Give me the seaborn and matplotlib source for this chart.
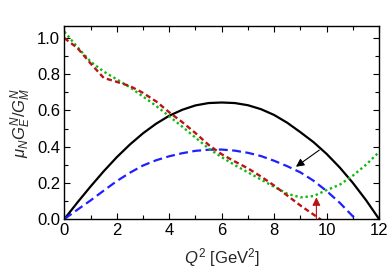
import matplotlib
matplotlib.use("Agg")
import matplotlib.pyplot as plt
import numpy as np
import pandas as pd
import seaborn as sns

# ---------------------------------------------------------------------
# Data (Q^2 in GeV^2)
# ---------------------------------------------------------------------
q2 = [0, 0.5, 1, 1.5, 2, 2.5, 3, 3.5, 4, 4.5, 5, 5.5, 6,
      6.5, 7, 7.5, 8, 8.5, 9, 9.5, 10, 10.5, 11, 11.5, 12]

black_solid = [0, 0.092, 0.18, 0.264, 0.342, 0.412, 0.474, 0.527, 0.571,
               0.604, 0.628, 0.641, 0.644, 0.641, 0.629, 0.607, 0.575, 0.532,
               0.48, 0.425, 0.36, 0.285, 0.20, 0.105, 0.0]

blue_dashed = [0, 0.052, 0.103, 0.157, 0.210, 0.256, 0.296, 0.325, 0.347,
               0.364, 0.377, 0.383, 0.384, 0.378, 0.366, 0.348, 0.322, 0.292,
               0.258, 0.212, 0.155, 0.09, 0.015, -0.05, -0.12]

green_dotted = [1.035, 0.95, 0.87, 0.815, 0.772, 0.728, 0.677, 0.625, 0.568,
                0.51, 0.45, 0.39, 0.342, 0.298, 0.258, 0.218, 0.178, 0.14,
                0.12, 0.127, 0.16, 0.19, 0.24, 0.30, 0.37]

red_dashed = [1.0, 0.945, 0.86, 0.78, 0.758, 0.735, 0.697, 0.65, 0.59, 0.535,
              0.475, 0.41, 0.358, 0.318, 0.28, 0.235, 0.185, 0.13, 0.075,
              0.025, -0.025, -0.075, -0.125, -0.175, -0.225]

# annotation arrows (tail -> head)
black_arrow = ((9.72, 0.381), (8.83, 0.289))
red_arrow = ((9.61, 0.0), (9.61, 0.12))

df = pd.DataFrame({"Q2": q2, "black": black_solid, "blue": blue_dashed,
                   "green": green_dotted, "red": red_dashed})

# ---------------------------------------------------------------------
# Style
# ---------------------------------------------------------------------
sns.set_style("ticks", {"xtick.direction": "in", "ytick.direction": "in"})
plt.rcParams["font.family"] = ["Liberation Sans", "DejaVu Sans"]
plt.rcParams["mathtext.fontset"] = "custom"
plt.rcParams["mathtext.rm"] = "Liberation Sans"
plt.rcParams["mathtext.it"] = "Liberation Sans:italic"

fig = plt.figure(figsize=(3.9, 2.78), dpi=100)
ax = fig.add_axes([0.165, 0.212, 0.807, 0.694])

sns.lineplot(data=df, x="Q2", y="black", color="black", lw=1.6, ax=ax)
sns.lineplot(data=df, x="Q2", y="blue", color="#1f1fff", lw=1.6,
             linestyle=(0, (4, 2)), ax=ax)
sns.lineplot(data=df, x="Q2", y="green", color="#12b812", lw=1.7,
             linestyle=(0, (1, 1.2)), ax=ax)
sns.lineplot(data=df, x="Q2", y="red", color="#b81414", lw=1.7,
             linestyle=(0, (2.2, 1.4)), ax=ax)

ax.annotate("", xy=black_arrow[1], xytext=black_arrow[0],
            arrowprops=dict(arrowstyle="-|>", color="black", lw=0.8,
                            mutation_scale=12, shrinkA=0, shrinkB=0))
ax.annotate("", xy=red_arrow[1], xytext=red_arrow[0],
            arrowprops=dict(arrowstyle="-|>", color="#b81414", lw=0.8,
                            mutation_scale=12, shrinkA=0, shrinkB=0))

ax.set_xlim(0, 12)
ax.set_ylim(0, 1.066)
ax.set_xticks(np.arange(0, 13, 2))
ax.set_xticks(np.arange(0, 13, 1), minor=True)
ax.set_yticks(np.arange(0, 1.01, 0.2))
ax.set_yticks(np.arange(0, 1.01, 0.1), minor=True)
ax.set_yticklabels([f"{v:.1f}" for v in np.arange(0, 1.01, 0.2)])
ax.tick_params(which="both", direction="in", top=True, right=True,
               labelsize=12, width=0.8, colors="black")
ax.tick_params(which="major", length=4, pad=3)
ax.tick_params(which="minor", length=3)
for s in ax.spines.values():
    s.set_linewidth(1.0)
    s.set_color("black")

ax.set_xlabel(r"$Q^2$ [GeV$^2$]", fontsize=12, labelpad=6)
ax.set_ylabel(r"$\mu_N G_E^N/G_M^N$", fontsize=12, labelpad=3)

fig.savefig("out.png", dpi=100)
